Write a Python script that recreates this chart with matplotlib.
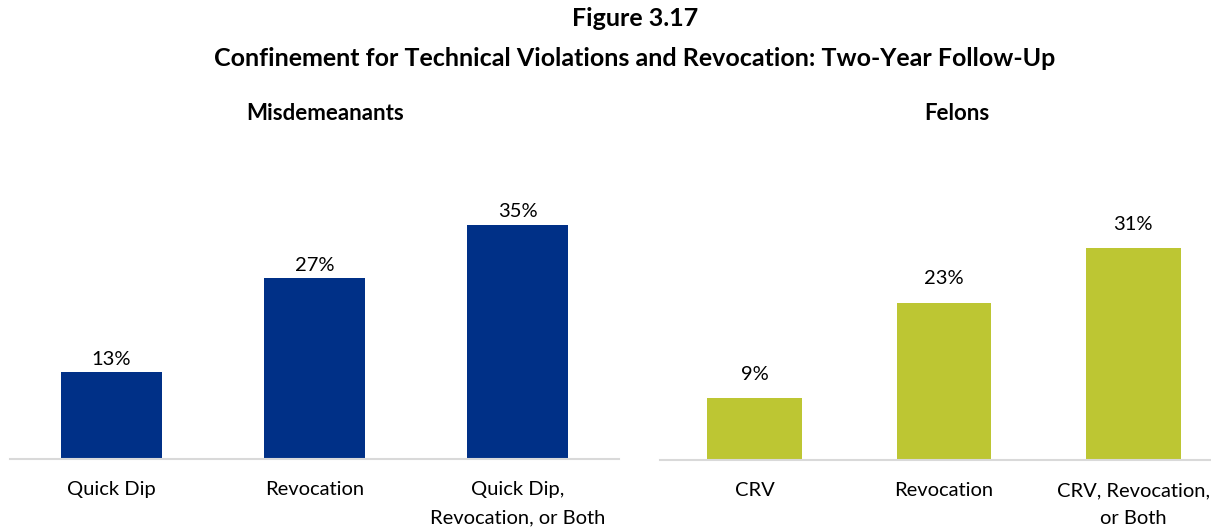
import matplotlib
matplotlib.use('Agg')
import matplotlib.pyplot as plt

plt.rcParams['font.family'] = ['Lato', 'DejaVu Sans']

# data
misd_cats = ['Quick Dip', 'Revocation', 'Quick Dip,\nRevocation, or Both']
misd_vals = [13, 27, 35]
fel_cats = ['CRV', 'Revocation', 'CRV, Revocation,\nor Both']
fel_vals = [9, 23, 31]

blue = '#003087'
green = '#bdc633'
W, H = 1211, 529

fig = plt.figure(figsize=(W / 100, H / 100), dpi=100)

def px_axes(x0, x1, base, top):
    # pixel coords (from top-left) -> figure fraction
    return fig.add_axes([x0 / W, (H - base) / H, (x1 - x0) / W, (base - top) / H])

ax1 = px_axes(10, 619, 459, 459 - 6.7 * 40)
ax2 = px_axes(660, 1228, 460, 460 - 6.84 * 40)

def draw(ax, cats, vals, color, off):
    x = range(len(vals))
    bars = ax.bar(x, vals, width=0.5, color=color)
    ax.set_xlim(-0.5, 2.5)
    ax.set_ylim(0, 40)
    for b, v in zip(bars, vals):
        ax.annotate(f'{v}%', (b.get_x() + b.get_width() / 2, v), xytext=(0, off),
                    textcoords='offset points', ha='center', va='bottom', fontsize=14.5)
    ax.set_xticks(list(x))
    ax.set_xticklabels(cats, fontsize=14.5, linespacing=1.8)
    ax.tick_params(axis='x', length=0, pad=16)
    ax.set_yticks([])
    for s in ['top', 'right', 'left']:
        ax.spines[s].set_visible(False)
    ax.spines['bottom'].set_color('#d9d9d9')
    ax.spines['bottom'].set_linewidth(1.5)

draw(ax1, misd_cats, misd_vals, blue, 3)
draw(ax2, fel_cats, fel_vals, green, 11)

fig.text(635 / W, 1 - 18 / H, 'Figure 3.17', ha='center', va='center', fontsize=18, fontweight='bold')
fig.text(635 / W, 1 - 58 / H, 'Confinement for Technical Violations and Revocation: Two-Year Follow-Up',
         ha='center', va='center', fontsize=18, fontweight='bold')
fig.text(325 / W, 1 - 113 / H, 'Misdemeanants', ha='center', va='center', fontsize=16, fontweight='bold')
fig.text(957 / W, 1 - 113 / H, 'Felons', ha='center', va='center', fontsize=16, fontweight='bold')

fig.savefig('out.png', dpi=100)
